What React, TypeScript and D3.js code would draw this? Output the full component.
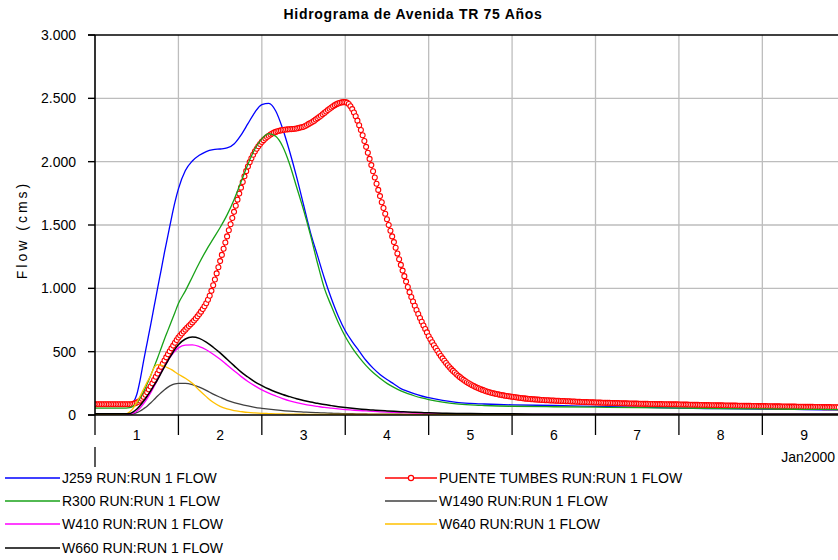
import React from 'react';
import * as d3 from 'd3';

const TITLE = 'Hidrograma de Avenida TR 75 Años';
const Y_LABEL = 'Flow (cms)';
const Y_TICKS = [0, 500, 1000, 1500, 2000, 2500, 3000];
const Y_TICK_LABELS = ['0', '500', '1.000', '1.500', '2.000', '2.500', '3.000'];
const DAY_LABELS = ['1', '2', '3', '4', '5', '6', '7', '8', '9'];
const MONTH_LABEL = 'Jan2000';

const START = Date.UTC(2000, 0, 1, 0, 0);
const END = Date.UTC(2000, 0, 9, 22, 0);

// hours after start for the smooth series
const SAMPLE_HOURS = [0, 4, 8, 9, 10, 11, 12, 13, 14, 15, 16, 17, 18, 19, 20, 21, 22, 23, 24,
  26, 28, 30, 32, 34, 36, 38, 40, 42, 44, 46, 48,
  50, 52, 54, 56, 58, 60, 62, 64, 66, 68, 70, 72,
  74, 76, 78, 80, 82, 84, 86, 88, 90, 92, 94, 96,
  100, 104, 108, 112, 116, 120,
  132, 144, 156, 168, 180, 192, 204, 214];

const J259 = [78, 78, 78, 78, 80, 100, 160, 280, 430, 570, 710, 855, 1000, 1140, 1285, 1420, 1555, 1680, 1785,
  1930, 2005, 2050, 2080, 2095, 2100, 2108, 2140, 2210, 2300, 2390, 2450,
  2460, 2400, 2260, 2080, 1880, 1660, 1440, 1260, 1080, 920, 780, 665,
  580, 505, 430, 370, 320, 280, 245, 208, 186, 166, 150, 137,
  115, 100, 92, 87, 83, 80,
  75, 68, 62, 54, 50, 47, 43, 40];

const R300 = [55, 55, 55, 55, 58, 70, 95, 135, 185, 245, 310, 380, 450, 525, 600, 670, 740, 810, 880,
  980, 1090, 1200, 1300, 1390, 1480, 1580, 1700, 1840, 1980, 2100, 2180,
  2222, 2200, 2120, 1980, 1800, 1620, 1420, 1200, 1000, 860, 730, 620,
  530, 455, 390, 335, 290, 250, 218, 190, 168, 150, 135, 122,
  102, 88, 80, 75, 71, 69,
  65, 62, 58, 55, 51, 48, 45, 43];

const W1490 = [2, 2, 2, 2, 3, 8, 18, 32, 50, 70, 95, 122, 150, 176, 200, 220, 236, 246, 250,
  250, 240, 220, 195, 165, 140, 116, 98, 84, 72, 61, 53,
  46, 40, 35, 30, 26, 23, 20, 18, 16, 14, 12, 11,
  10, 9, 8, 7, 7, 6, 6, 6, 5, 5, 5, 5,
  4, 4, 4, 3, 3, 3,
  3, 3, 2, 2, 2, 2, 2, 2];

const W410 = [5, 5, 5, 5, 6, 15, 30, 55, 90, 130, 175, 225, 280, 335, 385, 430, 470, 505, 530,
  552, 553, 540, 515, 480, 440, 395, 350, 305, 265, 230, 198,
  172, 150, 130, 112, 98, 86, 76, 68, 60, 54, 48, 43,
  39, 35, 32, 28, 25, 22, 20, 18, 16, 14, 13, 12,
  10, 8, 7, 6, 6, 5,
  5, 5, 4, 4, 4, 4, 4, 4];

const W640 = [3, 3, 4, 8, 25, 55, 100, 150, 205, 260, 310, 375, 398, 394, 385, 372, 358, 340, 322,
  290, 250, 195, 145, 100, 68, 48, 35, 27, 20, 16, 13,
  11, 9, 8, 7, 6, 6, 5, 5, 5, 5, 4, 4,
  4, 4, 4, 4, 4, 4, 4, 4, 4, 4, 4, 4,
  4, 3, 3, 3, 3, 3,
  3, 3, 3, 3, 3, 3, 3, 3];

const W660 = [10, 10, 10, 10, 12, 25, 45, 75, 110, 150, 190, 235, 280, 330, 380, 430, 475, 520, 555,
  600, 615, 605, 575, 535, 490, 440, 390, 340, 300, 262, 232,
  205, 182, 162, 145, 128, 114, 102, 92, 82, 74, 66, 59,
  53, 48, 43, 39, 35, 32, 29, 26, 23, 21, 19, 17,
  14, 12, 11, 10, 9, 9,
  8, 8, 8, 7, 7, 7, 7, 7];

// Puente Tumbes, one value every 30 minutes from the start
const PUENTE_STEP_MINUTES = 30;
const PUENTE_TUMBES = [
  // day 1
  85, 85, 85, 85, 85, 85, 85, 85, 85, 85, 85, 85, 85, 85, 85, 85, 85, 85, 85, 85, 85, 85,
  88, 92, 98, 105, 115, 128, 143, 160, 180, 202, 225, 250, 276, 302, 328, 354, 380, 405, 430, 455, 480, 503, 526, 548, 570, 592,
  // day 2
  612, 628, 644, 659, 674, 689, 703, 717, 731, 746, 762, 779, 797, 816, 836, 858, 882, 910, 942, 980, 1024, 1070, 1118, 1166,
  1215, 1264, 1313, 1362, 1410, 1458, 1506, 1555, 1604, 1652, 1700, 1748, 1795, 1840, 1884, 1925, 1962, 1996, 2027, 2055, 2080, 2102, 2122, 2140,
  // day 3
  2156, 2170, 2183, 2195, 2205, 2214, 2222, 2229, 2235, 2240, 2244, 2247, 2250, 2252, 2254, 2255, 2256, 2257, 2258, 2260, 2262, 2265, 2269, 2272,
  2275, 2282, 2290, 2298, 2305, 2313, 2322, 2332, 2342, 2352, 2363, 2374, 2385, 2396, 2407, 2418, 2428, 2438, 2446, 2454, 2460, 2465, 2468, 2470,
  // day 4
  2470, 2466, 2455, 2438, 2415, 2388, 2358, 2324, 2288, 2250, 2208, 2163, 2117, 2070, 2022, 1973, 1924, 1875, 1826, 1777, 1728, 1680, 1634, 1589,
  1545, 1500, 1455, 1410, 1365, 1320, 1275, 1230, 1185, 1140, 1096, 1053, 1010, 970, 932, 896, 862, 829, 797, 766, 736, 707, 679, 652,
  // day 5
  622, 598, 574, 551, 529, 507, 486, 466, 447, 428, 410, 393, 377, 362, 348, 335, 322, 310, 299, 288, 278, 268, 259, 251,
  243, 235, 228, 221, 215, 209, 203, 198, 193, 188, 184, 180, 176, 172, 169, 166, 163, 160, 157, 155, 152, 150, 148, 146,
  // day 6
  144, 142, 140, 138, 136, 134, 132, 131, 129, 128, 126, 125, 124, 123, 122, 121, 120, 119, 118, 117, 116, 116, 115, 114,
  114, 113, 112, 112, 111, 110, 110, 109, 108, 108, 107, 106, 106, 105, 105, 104, 103, 103, 102, 102, 101, 101, 100, 100,
  // day 7
  99, 99, 98, 98, 97, 97, 96, 96, 96, 95, 95, 94, 94, 94, 93, 93, 92, 92, 92, 91, 91, 91, 90, 90,
  90, 89, 89, 89, 88, 88, 88, 87, 87, 87, 87, 86, 86, 86, 86, 85, 85, 85, 85, 84, 84, 84, 84, 84,
  // day 8
  83, 83, 83, 82, 82, 82, 81, 81, 81, 80, 80, 80, 79, 79, 79, 78, 78, 78, 77, 77, 77, 77, 76, 76,
  76, 76, 75, 75, 75, 75, 74, 74, 74, 74, 73, 73, 73, 73, 72, 72, 72, 72, 71, 71, 71, 71, 70, 70,
  // day 9
  70, 70, 70, 69, 69, 69, 69, 68, 68, 68, 68, 67, 67, 67, 67, 66, 66, 66, 66, 66, 65, 65, 65, 65, 65,
  64, 64, 64, 64, 64, 63, 63, 63, 63, 63, 62, 62, 62, 62, 62, 61, 61, 61, 61, 61,
];

const SERIES_NAMES = ['J259 RUN:RUN 1 FLOW', 'PUENTE TUMBES RUN:RUN 1 FLOW', 'R300 RUN:RUN 1 FLOW',
  'W1490 RUN:RUN 1 FLOW', 'W410 RUN:RUN 1 FLOW', 'W640 RUN:RUN 1 FLOW', 'W660 RUN:RUN 1 FLOW'];
const SERIES_COLORS = ['#0000ff', '#ff0000', '#18a218', '#404040', '#ff00ff', '#ffc000', '#000000'];

const W = 838;
const H = 560;
const M = { left: 95, top: 35, right: 838.8, bottom: 415 };
const FONT = '"Liberation Sans", Arial, Helvetica, sans-serif';

export default function App() {
  const x = d3.scaleUtc().domain([new Date(START), new Date(END)]).range([M.left, M.right]);
  const y = d3.scaleLinear().domain([0, 3000]).range([M.bottom, M.top]);

  const sampleDates = SAMPLE_HOURS.map((h) => new Date(START + h * 3600e3));
  const smoothLine = d3.line<[Date, number]>()
    .x((d) => x(d[0]))
    .y((d) => y(d[1]))
    .curve(d3.curveMonotoneX);
  const straightLine = d3.line<[Date, number]>()
    .x((d) => x(d[0]))
    .y((d) => y(d[1]));

  const smoothData: Record<string, number[]> = {
    [SERIES_NAMES[0]]: J259,
    [SERIES_NAMES[2]]: R300,
    [SERIES_NAMES[3]]: W1490,
    [SERIES_NAMES[4]]: W410,
    [SERIES_NAMES[5]]: W640,
    [SERIES_NAMES[6]]: W660,
  };
  const puente: [Date, number][] = PUENTE_TUMBES.map((v, i) => [new Date(START + i * PUENTE_STEP_MINUTES * 60e3), v]);

  const days = d3.utcDay.range(new Date(START), new Date(END + 1));
  const dayBoundaries = days; // 0..8
  const gridDays = days.slice(1);

  const legendCols = [5, 385];
  const legendRowsY = [478, 501, 524, 548];
  const legendLayout = [
    { idx: 0, col: 0, row: 0 },
    { idx: 1, col: 1, row: 0 },
    { idx: 2, col: 0, row: 1 },
    { idx: 3, col: 1, row: 1 },
    { idx: 4, col: 0, row: 2 },
    { idx: 5, col: 1, row: 2 },
    { idx: 6, col: 0, row: 3 },
  ];
  const legendLen = [55, 52];

  return (
    <svg width={W} height={H} style={{ position: 'absolute', left: 0, top: 0, background: '#fff' }}
      fontFamily={FONT}>
      <rect x={0} y={0} width={W} height={H} fill="#fff" />
      <text x={413} y={18.5} textAnchor="middle" fontSize={14} fontWeight="bold" letterSpacing={0.7} fill="#000">{TITLE}</text>

      {/* grid */}
      {Y_TICKS.filter((t) => t > 0 && t < 3000).map((t) => (
        <line key={'gy' + t} x1={M.left} x2={W} y1={y(t)} y2={y(t)} stroke="#bdbdbd" strokeWidth={1.3} />
      ))}
      {gridDays.map((d, i) => (
        <line key={'gx' + i} x1={x(d)} x2={x(d)} y1={M.top} y2={M.bottom} stroke="#bdbdbd" strokeWidth={1.3} />
      ))}

      {/* series */}
      <defs>
        <clipPath id="plotclip">
          <rect x={M.left} y={M.top - 5} width={W - M.left} height={M.bottom - M.top + 5} />
        </clipPath>
      </defs>
      <g clipPath="url(#plotclip)">
        {SERIES_NAMES.map((name, si) => {
          const color = SERIES_COLORS[si];
          if (si === 1) {
            return (
              <g key={name}>
                <path d={straightLine(puente) || ''} fill="none" stroke={color} strokeWidth={1.2} />
                {puente.map((p, i) => (
                  <circle key={i} cx={x(p[0])} cy={y(p[1])} r={2.5} fill="#fff" stroke={color} strokeWidth={1.1} />
                ))}
              </g>
            );
          }
          const vals = smoothData[name];
          const data: [Date, number][] = vals.map((v, i) => [sampleDates[i], v]);
          return (
            <path key={name} d={smoothLine(data) || ''} fill="none" stroke={color}
              strokeWidth={si === 6 ? 1.5 : 1.3} />
          );
        })}
      </g>

      {/* axes */}
      <line x1={M.left - 7} x2={W} y1={M.top} y2={M.top} stroke="#000" strokeWidth={1.6} />
      <line x1={M.left - 7} x2={W} y1={M.bottom} y2={M.bottom} stroke="#000" strokeWidth={1.6} />
      <line x1={M.left} x2={M.left} y1={M.top} y2={M.bottom} stroke="#000" strokeWidth={1.6} />
      {Y_TICKS.map((t, i) => (
        <g key={'yt' + t}>
          <line x1={M.left - 7} x2={M.left} y1={y(t)} y2={y(t)} stroke="#000" strokeWidth={1.4} />
          <text x={76} y={y(t) + 5} textAnchor="end" fontSize={14} fill="#000">{Y_TICK_LABELS[i]}</text>
        </g>
      ))}
      {dayBoundaries.map((d, i) => (
        <line key={'xt' + i} x1={x(d)} x2={x(d)} y1={M.bottom} y2={M.bottom + 20} stroke="#000" strokeWidth={1.3} />
      ))}
      <line x1={M.left} x2={M.left} y1={447} y2={467} stroke="#000" strokeWidth={1.3} />
      {dayBoundaries.map((d, i) => {
        const next = d3.utcDay.offset(d, 1);
        const cx = (x(d) + x(next)) / 2;
        return (
          <text key={'xl' + i} x={cx} y={440} textAnchor="middle" fontSize={14} fill="#000">{DAY_LABELS[i]}</text>
        );
      })}
      <text x={835} y={462} textAnchor="end" fontSize={14} fill="#000">{MONTH_LABEL}</text>

      <text transform={`translate(27,${230}) rotate(-90)`} textAnchor="middle" fontSize={14}
        letterSpacing={3} fill="#000">{Y_LABEL}</text>

      {/* legend */}
      {legendLayout.map(({ idx, col, row }) => {
        const x0 = legendCols[col];
        const len = legendLen[col];
        const yy = legendRowsY[row];
        const color = SERIES_COLORS[idx];
        return (
          <g key={'lg' + idx}>
            <line x1={x0} x2={x0 + len} y1={yy} y2={yy} stroke={color} strokeWidth={idx === 6 ? 1.6 : 1.4} />
            {idx === 1 && (
              <circle cx={x0 + len / 2} cy={yy} r={2.6} fill="#fff" stroke={color} strokeWidth={1.2} />
            )}
            <text x={x0 + len + 2} y={yy + 5} fontSize={14} fill="#000">{SERIES_NAMES[idx]}</text>
          </g>
        );
      })}
    </svg>
  );
}
